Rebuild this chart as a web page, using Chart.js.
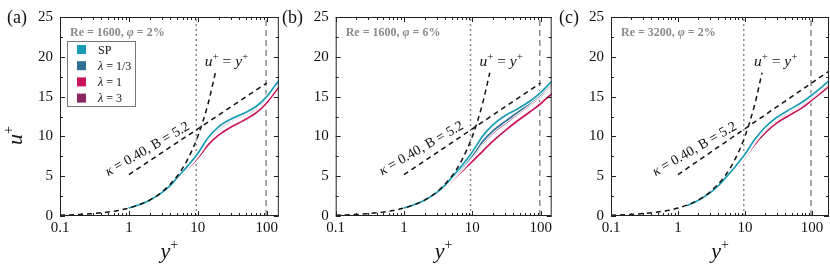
<!DOCTYPE html>
<html>
<head>
<meta charset="utf-8">
<script src="https://cdn.jsdelivr.net/npm/chart.js@4.4.1/dist/chart.umd.min.js"></script>
<style>
body { margin: 0; background: #fff; width: 830px; height: 265px; position: relative; overflow: hidden; }
canvas { position: absolute; top: 0; }
</style>
</head>
<body>
<canvas id="ca" width="281" height="265" style="left:0px"></canvas>
<canvas id="cb" width="274" height="265" style="left:281px"></canvas>
<canvas id="cc" width="275" height="265" style="left:555px"></canvas>
<script>
// series names + colours
let seriesNames = ['SP', 'λ = 1/3', 'λ = 1', 'λ = 3'];
let seriesColors = ['#1a9cb6', '#2e6f93', '#c8145a', '#8a2862'];

// x ticks (log axis) and y range
let xTickValues = [0.1, 1, 10, 100];
let yTickStep = 5;

// (a) Re = 1600, phi = 2%
let yPlusA = [1, 1.5, 2, 3, 4, 5, 7, 10, 14, 20, 30, 45, 70, 100, 130, 150];
let uA_SP  = [1.0, 1.5, 1.97, 2.93, 3.85, 4.8, 6.2, 7.85, 9.8, 11.2, 12.15, 12.85, 13.75, 15.0, 16.3, 17.0];
let uA_L13 = [1.0, 1.5, 1.97, 2.93, 3.85, 4.8, 6.17, 7.78, 9.68, 11.08, 12.03, 12.72, 13.62, 14.87, 16.18, 16.9];
let uA_L1  = [1.0, 1.48, 1.95, 2.88, 3.75, 4.62, 5.9, 7.3, 8.9, 10.15, 11.15, 11.95, 12.95, 14.2, 15.5, 16.2];
let uA_L3  = [1.0, 1.5, 1.96, 2.91, 3.82, 4.75, 6.1, 7.68, 9.52, 10.92, 11.88, 12.58, 13.48, 14.72, 16.02, 16.72];

// (b) Re = 1600, phi = 6%
let yPlusB = [1, 1.5, 2, 3, 4, 5, 7, 10, 14, 20, 30, 45, 70, 100, 130, 150];
let uB_SP  = [1.0, 1.5, 1.97, 2.93, 3.87, 4.85, 6.3, 8.05, 10.0, 11.45, 12.6, 13.4, 14.45, 15.5, 16.5, 17.0];
let uB_L13 = [1.0, 1.5, 1.96, 2.91, 3.8, 4.72, 6.05, 7.6, 9.3, 10.7, 11.85, 12.95, 14.2, 15.25, 16.3, 16.8];
let uB_L1  = [1.0, 1.47, 1.92, 2.8, 3.62, 4.45, 5.6, 6.85, 8.1, 9.4, 10.7, 11.9, 13.1, 14.1, 15.0, 15.4];
let uB_L3  = [1.0, 1.49, 1.95, 2.88, 3.75, 4.65, 5.95, 7.4, 9.05, 10.45, 11.6, 12.75, 14.0, 15.05, 16.1, 16.6];

// (c) Re = 3200, phi = 2%
let yPlusC = [1.35, 2, 3, 4, 5, 7, 10, 14, 20, 30, 45, 70, 100, 140, 180];
let uC_SP  = [1.3, 1.95, 2.9, 3.8, 4.7, 6.1, 7.75, 9.6, 11.15, 12.4, 13.3, 14.25, 15.2, 16.2, 17.0];
let uC_L13 = [1.3, 1.95, 2.9, 3.8, 4.7, 6.08, 7.7, 9.52, 11.07, 12.32, 13.22, 14.17, 15.12, 16.12, 16.92];
let uC_L1  = [1.3, 1.94, 2.86, 3.72, 4.58, 5.85, 7.35, 9.0, 10.45, 11.7, 12.6, 13.55, 14.55, 15.55, 16.3];
let uC_L3  = [1.3, 1.95, 2.89, 3.78, 4.66, 6.0, 7.6, 9.38, 10.9, 12.15, 13.05, 14.0, 14.95, 15.95, 16.7];

// reference laws (dashed black)
let wallX = [0.1, 0.2, 0.3, 0.5, 0.7, 1, 1.5, 2, 3, 5, 7, 10, 14, 18];
let wallU = [0.1, 0.2, 0.3, 0.5, 0.7, 1, 1.5, 2, 3, 5, 7, 10, 14, 18];
let logX_AB = [1, 100];
let logU_AB = [5.2, 16.7];
let logX_C = [1, 180];
let logU_C = [5.2, 18.2];

const SERIF = '"Liberation Serif", "Times New Roman", serif';

function pts(xs, ys) {
  return xs.map((x, i) => ({ x: x, y: ys[i] }));
}

function drawRuns(ctx, runs, x, y) {
  runs.forEach(r => {
    ctx.font = r[1];
    ctx.fillText(r[0], x, y + (r[2] || 0));
    x += ctx.measureText(r[0]).width;
  });
  return x;
}

function runsWidth(ctx, runs) {
  let w = 0;
  runs.forEach(r => { ctx.font = r[1]; w += ctx.measureText(r[0]).width; });
  return w;
}

// box frame + inward ticks on all four sides
const frameTicks = {
  id: 'frameTicks',
  afterDatasetsDraw(chart) {
    const { ctx, chartArea: a } = chart;
    const x = chart.scales.x, y = chart.scales.y;
    ctx.save();
    ctx.strokeStyle = '#222';
    ctx.lineWidth = 1;
    ctx.strokeRect(a.left + 0.5, a.top + 0.5, a.right - a.left - 1, a.bottom - a.top - 1);
    ctx.beginPath();
    for (let d = 0.1; d < x.max; d *= 10) {
      for (let m = 1; m <= 9; m++) {
        let v = d * m;
        if (v > x.max) break;
        let px = Math.round(x.getPixelForValue(v)) + 0.5;
        let len = m === 1 ? 5 : 3;
        ctx.moveTo(px, a.bottom); ctx.lineTo(px, a.bottom - len);
        ctx.moveTo(px, a.top); ctx.lineTo(px, a.top + len);
      }
    }
    for (let v = 0; v <= 25; v += 2.5) {
      let py = Math.round(y.getPixelForValue(v)) + 0.5;
      let len = v % 5 === 0 ? 5 : 3;
      ctx.moveTo(a.left, py); ctx.lineTo(a.left + len, py);
      ctx.moveTo(a.right, py); ctx.lineTo(a.right - len, py);
    }
    ctx.stroke();
    ctx.restore();
  }
};

// panel texts, legend, axis titles
const notes = {
  id: 'notes',
  afterDraw(chart, args, o) {
    const { ctx, chartArea: a } = chart;
    const x = chart.scales.x, y = chart.scales.y;
    ctx.save();
    ctx.textBaseline = 'alphabetic';
    ctx.fillStyle = '#111';
    ctx.font = '18px ' + SERIF;
    ctx.fillText(o.tag, o.tagX, 23);

    ctx.fillStyle = '#8a8a8a';
    drawRuns(ctx, [
      [o.re, 'bold 12px ' + SERIF],
      ['φ', 'italic bold 12px ' + SERIF],
      [o.phi, 'bold 12px ' + SERIF]
    ], a.left + 10, a.top + 18.5);

    ctx.fillStyle = '#111';
    drawRuns(ctx, [
      ['u', 'italic 15.5px ' + SERIF],
      ['+', '11px ' + SERIF, -6.5],
      [' = ', '15.5px ' + SERIF],
      ['y', 'italic 15.5px ' + SERIF],
      ['+', '11px ' + SERIF, -6.5]
    ], x.getPixelForValue(o.uy[0]), y.getPixelForValue(o.uy[1]));

    ctx.save();
    ctx.translate(x.getPixelForValue(o.kap[0]), y.getPixelForValue(o.kap[1]));
    ctx.rotate(-o.kap[2] * Math.PI / 180);
    drawRuns(ctx, [
      ['κ', 'italic 14px ' + SERIF],
      [' = 0.40, B = 5.2', '14px ' + SERIF]
    ], 0, 0);
    ctx.restore();

    if (o.legend) {
      let lx = a.left + 7, ly = a.top + 24;
      ctx.strokeStyle = '#777';
      ctx.lineWidth = 1;
      ctx.strokeRect(lx + 0.5, ly + 0.5, 68, 65);
      seriesNames.forEach((name, i) => {
        let cy = ly + 8.5 + i * 16.2;
        ctx.fillStyle = seriesColors[i];
        ctx.fillRect(lx + 10, cy - 4.5, 9, 9);
        ctx.fillStyle = '#111';
        let runs = name[0] === 'λ'
          ? [['λ', 'italic 12px ' + SERIF], [name.slice(1), '12px ' + SERIF]]
          : [[name, '12px ' + SERIF]];
        drawRuns(ctx, runs, lx + 31, cy + 4);
      });
    }

    // x title y+
    ctx.fillStyle = '#111';
    let xt = [['y', 'italic 22px ' + SERIF], ['+', '14px ' + SERIF, -9]];
    drawRuns(ctx, xt, (a.left + a.right) / 2 - runsWidth(ctx, xt) / 2, 258);

    if (o.yTitle) {
      ctx.save();
      ctx.translate(22, 136);
      ctx.rotate(-Math.PI / 2);
      drawRuns(ctx, [
        ['u', 'italic 22px ' + SERIF],
        ['+', '14px ' + SERIF, -9]
      ], -9, 0);
      ctx.restore();
    }
    ctx.restore();
  }
};

function makePanel(id, p) {
  let datasets = [];
  let vline = (xv, dash) => ({
    data: [{ x: xv, y: 0 }, { x: xv, y: 25 }],
    borderColor: '#8a8a8a', borderWidth: 1.5, borderDash: dash, order: 30
  });
  datasets.push(vline(p.dotX, [2, 3]));
  datasets.push(vline(p.dashX, [6, 4]));

  // draw rank: 1 = top
  let rank = [1, 2, 4, 3];
  p.series.forEach((vals, i) => {
    let d = pts(p.yPlus, vals);
    datasets.push({ data: d, borderColor: '#ffffff', borderWidth: 3.8, order: 10 + rank[i] * 2 + 1, cubicInterpolationMode: 'monotone' });
    datasets.push({ label: seriesNames[i], data: d, borderColor: seriesColors[i], borderWidth: 1.7, order: 10 + rank[i] * 2, cubicInterpolationMode: 'monotone' });
  });

  datasets.push({ data: pts(wallX, wallU), borderColor: '#111', borderWidth: 1.5, borderDash: [5, 4], order: 1, cubicInterpolationMode: 'monotone' });
  datasets.push({ data: pts(p.logX, p.logU), borderColor: '#111', borderWidth: 1.5, borderDash: [5, 4], order: 1 });

  datasets.forEach(ds => { ds.showLine = true; ds.pointRadius = 0; });

  new Chart(document.getElementById(id), {
    type: 'scatter',
    data: { datasets: datasets },
    options: {
      responsive: false,
      animation: false,
      events: [],
      layout: { padding: { top: 17, right: p.rightPad, left: 0, bottom: 0 } },
      scales: {
        x: {
          type: 'logarithmic', min: 0.1, max: p.xMax,
          grid: { display: false, drawTicks: false },
          border: { display: false },
          afterBuildTicks: s => { s.ticks = xTickValues.map(v => ({ value: v })); },
          afterFit: s => { s.height = 49; },
          ticks: {
            autoSkip: false, maxRotation: 0, padding: 3, color: '#111',
            font: { family: SERIF, size: 15 },
            callback: v => String(v)
          }
        },
        y: {
          min: 0, max: 25,
          grid: { display: false, drawTicks: false },
          border: { display: false },
          afterFit: s => { s.width = p.yW; },
          ticks: { stepSize: yTickStep, padding: 7, color: '#111', font: { family: SERIF, size: 15 } }
        }
      },
      plugins: {
        legend: { display: false },
        tooltip: { enabled: false },
        notes: p.notes
      }
    },
    plugins: [frameTicks, notes]
  });
}

makePanel('ca', {
  yPlus: yPlusA, series: [uA_SP, uA_L13, uA_L1, uA_L3],
  logX: logX_AB, logU: logU_AB, xMax: 150, dotX: 9.5, dashX: 98,
  yW: 60, rightPad: 1,
  notes: { tag: '(a)', tagX: 7, re: 'Re = 1600, ', phi: ' = 2%', uy: [12.6, 18.8], kap: [0.5, 5.0, 30], legend: true, yTitle: true }
});
makePanel('cb', {
  yPlus: yPlusB, series: [uB_SP, uB_L13, uB_L1, uB_L3],
  logX: logX_AB, logU: logU_AB, xMax: 145, dotX: 9.4, dashX: 97,
  yW: 54.7, rightPad: 2,
  notes: { tag: '(b)', tagX: 1, re: 'Re = 1600, ', phi: ' = 6%', uy: [12.7, 18.8], kap: [0.48, 5.1, 30], legend: false, yTitle: false }
});
makePanel('cc', {
  yPlus: yPlusC, series: [uC_SP, uC_L13, uC_L1, uC_L3],
  logX: logX_C, logU: logU_C, xMax: 180, dotX: 9.6, dashX: 97,
  yW: 56, rightPad: 1,
  notes: { tag: '(c)', tagX: 4, re: 'Re = 3200, ', phi: ' = 2%', uy: [13.6, 18.8], kap: [0.46, 5.0, 30], legend: false, yTitle: false }
});
</script>
</body>
</html>
